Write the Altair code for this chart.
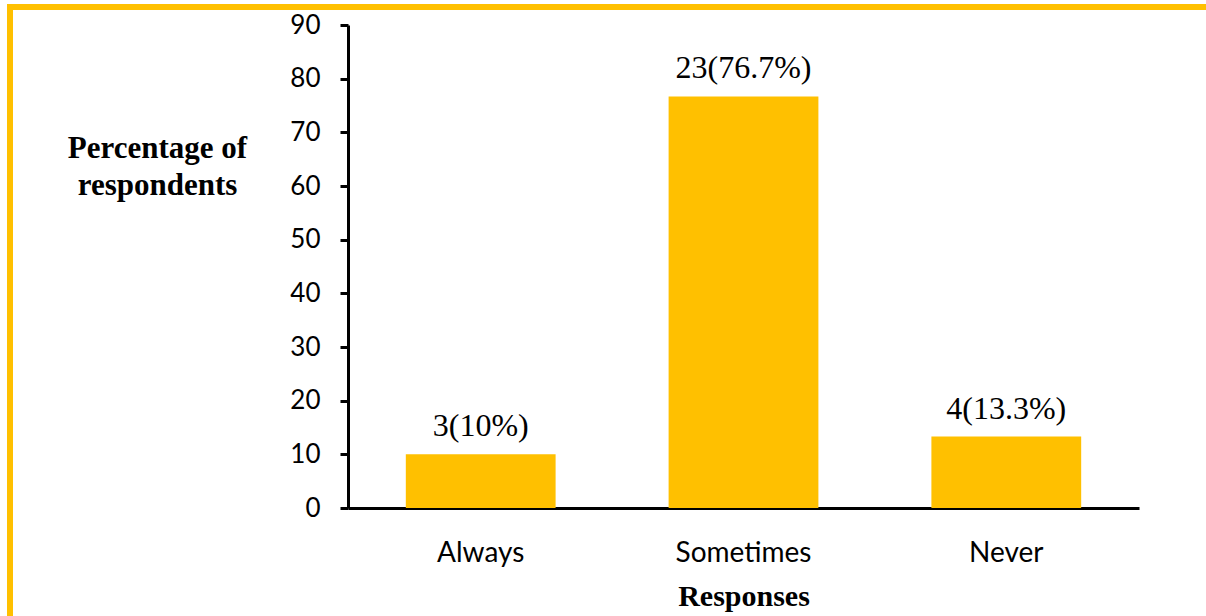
import altair as alt
import pandas as pd

categories = ["Always", "Sometimes", "Never"]
percentages = [10, 76.7, 13.3]
labels = ["3(10%)", "23(76.7%)", "4(13.3%)"]

df = pd.DataFrame({"response": categories, "pct": percentages, "label": labels})

W, H = 791, 483
L, T = 348, 25

x_enc = alt.X(
    "response:N",
    sort=categories,
    scale=alt.Scale(paddingInner=0.43, paddingOuter=0.22),
    axis=alt.Axis(
        title="Responses",
        titleFont="Liberation Serif",
        titleFontWeight="bold",
        titleFontSize=30,
        titleColor="black",
        titleBaseline="alphabetic",
        titleY=97,
        labelFont="Lato",
        labelFontSize=28,
        labelColor="black",
        labelAngle=0,
        labelPadding=31,
        ticks=False,
        domainColor="black",
        domainWidth=3,
        grid=False,
    ),
)

y_enc = alt.Y(
    "pct:Q",
    scale=alt.Scale(domain=[0, 90]),
    axis=alt.Axis(
        values=list(range(0, 91, 10)),
        title=["Percentage of", "respondents"],
        titleFont="Liberation Serif",
        titleFontWeight="bold",
        titleFontSize=31,
        titleColor="black",
        titleAngle=0,
        titleAlign="center",
        titleBaseline="alphabetic",
        titleLineHeight=37,
        titleX=-191,
        titleY=132,
        labelFont="Lato",
        labelFontSize=26,
        labelColor="black",
        labelPadding=20,
        tickSize=8,
        tickWidth=3,
        tickColor="black",
        domainColor="black",
        domainWidth=3,
        grid=False,
    ),
)

bars = alt.Chart(df).mark_bar(color="#FFC000").encode(x=x_enc, y=y_enc)

text = alt.Chart(df).mark_text(
    font="Liberation Serif", fontSize=32, color="black",
    baseline="alphabetic", dy=-18
).encode(x=alt.X("response:N", sort=categories), y="pct:Q", text="label:N")

border_df = pd.DataFrame({"k": [0]})
top_line = alt.Chart(border_df).mark_rule(color="#FFC000", strokeWidth=6).encode(
    x=alt.value(7 - L), x2=alt.value(1206 - L), y=alt.value(7 - T)
)
left_line = alt.Chart(border_df).mark_rule(color="#FFC000", strokeWidth=6).encode(
    x=alt.value(10 - L), y=alt.value(4 - T), y2=alt.value(616 - T)
)

chart = alt.layer(bars, text, top_line, left_line).properties(
    width=W, height=H,
    padding={"left": L, "top": T, "right": 1206 - L - W, "bottom": 616 - T - H},
    autosize=alt.AutoSizeParams(type="none"),
    background="white",
).configure_view(stroke=None)

chart.save("out.html", embed_options={"renderer": "svg", "actions": False})
